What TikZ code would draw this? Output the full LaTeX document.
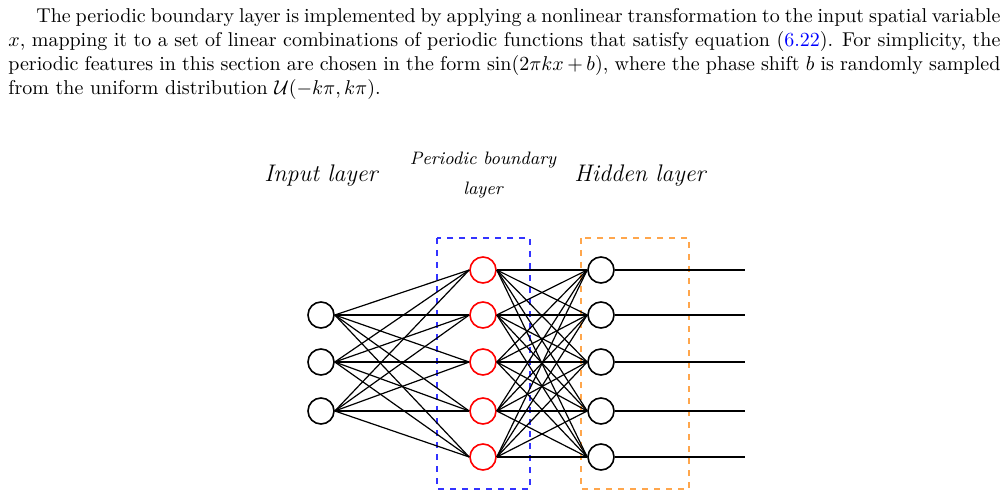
\documentclass[tikz,border=0pt]{standalone}
\usepackage{tikz}
\usepackage{amsmath, amssymb}
\usetikzlibrary{positioning}
\usetikzlibrary{calc}
\begin{document}
\begin{tikzpicture}[
  x=0.5pt, y=-0.5pt,
  neuron/.style={draw,thick,circle,minimum size=13pt,inner sep=0},
  periodic/.style={neuron,draw=red},
  layerbox/.style={dashed,semithick},
  heading/.style={font=\itshape},
]
\useasboundingbox (0,0) rectangle (1006,496);
\node[anchor=north west,text width=496pt,align=justify,inner sep=0] (txt) at (8,8)
  {\setlength{\parindent}{14pt}\indent The periodic boundary layer is implemented by applying a nonlinear transformation to the input spatial variable $x$, mapping it to a set of linear combinations of periodic functions that satisfy equation ({\color{blue}6.22}). For simplicity, the periodic features in this section are chosen in the form $\sin(2\pi kx+b)$, where the phase shift $b$ is randomly sampled from the uniform distribution $\mathcal{U}(-k\pi,k\pi)$.};
% boxes
\draw[layerbox,draw=blue!80] (437,238) rectangle (530,489);
\draw[layerbox,draw=orange!70] (581,238) rectangle (689,489);
% headings
\node[heading,font=\large\itshape] (hin) at (321,176) {Input layer};
\node[heading,font=\small\itshape] (hper) at (483,160) {Periodic boundary};
\node[heading,font=\small\itshape] (hper2) at (483,190) {layer};
\node[heading,font=\large\itshape] (hhid) at (640,176) {Hidden layer};
% neurons
\foreach \y [count=\i] in {315,362,411}
  \node[neuron] (I\i) at (321,\y) {};
\foreach \y [count=\i] in {270,315,362,411,457} {
  \node[periodic] (P\i) at (483,\y) {};
  \node[neuron] (H\i) at (601,\y) {};
  \coordinate (O\i) at (745,\y);
}
% connections
\foreach \i in {1,...,3}
  \foreach \j in {1,...,5}
    \draw[semithick] (I\i.east) -- (P\j.west);
\foreach \i in {1,...,5}
  \foreach \j in {1,...,5}
    \draw[semithick] (P\i.east) -- (H\j.west);
\foreach \i in {1,...,5}
  \draw[semithick] (H\i.east) -- (O\i);
\end{tikzpicture}
\end{document}
